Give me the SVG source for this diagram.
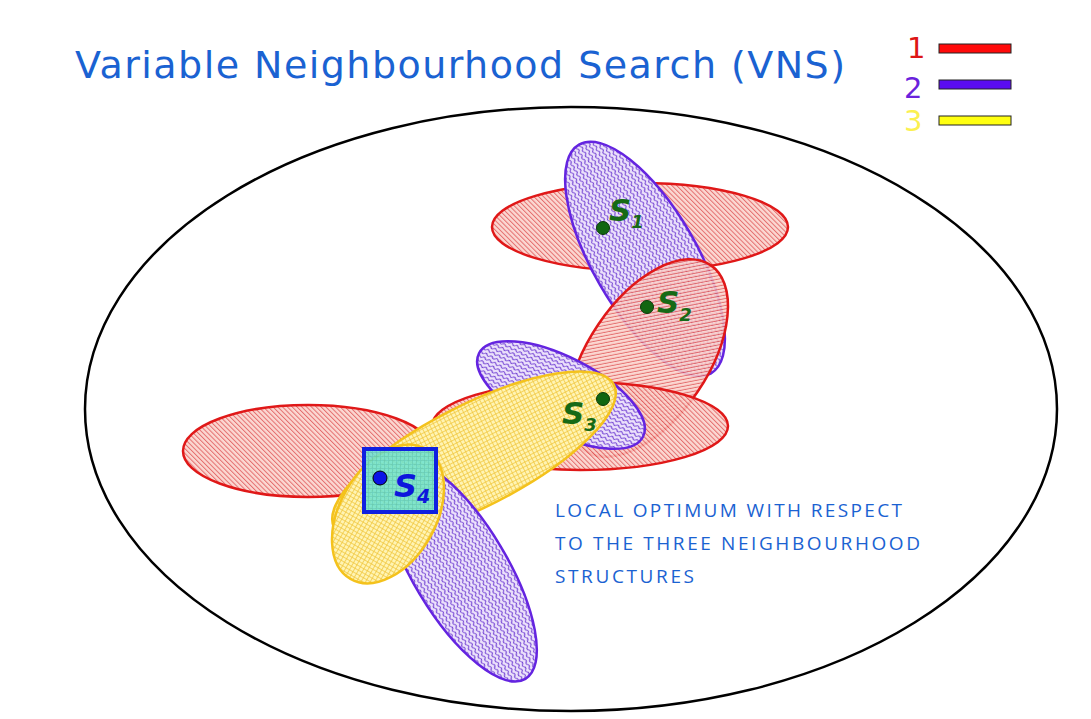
<svg xmlns="http://www.w3.org/2000/svg" width="1091" height="719" viewBox="0 0 1091 719">
<style>
.red{fill:url(#hatchRed);stroke:#e01818;stroke-width:2.5;fill-opacity:0.88}
.pur{fill:url(#wavePur);stroke:#6424e0;stroke-width:2.5}
.yel{fill:url(#gridYel);stroke:#f4c21c;stroke-width:2.5}
.lbl{font-family:"DejaVu Sans",sans-serif;font-weight:bold;font-style:italic;fill:#166a16}
.note{font-family:"Open Sans","Liberation Sans",sans-serif;font-size:19px;fill:#1a62d2}
.leg{font-family:"DejaVu Sans",sans-serif;font-size:29px}
.bar{stroke:#222;stroke-width:1}
</style>
<defs>
<pattern id="hatchRed" width="3.4" height="10" patternUnits="userSpaceOnUse" patternTransform="rotate(-45)">
<rect width="3.4" height="10" fill="#fbd3cc"/>
<line x1="0.5" y1="0" x2="0.5" y2="10" stroke="#e05a5a" stroke-width="1"/>
</pattern>
<pattern id="wavePur" width="6" height="4.2" patternUnits="userSpaceOnUse">
<rect width="6" height="4.2" fill="#ece2fb"/>
<path d="M0 2.1 Q1.5 0.3 3 2.1 T6 2.1" fill="none" stroke="#7444d4" stroke-width="1"/>
</pattern>
<pattern id="gridYel" width="4" height="4" patternUnits="userSpaceOnUse">
<rect width="4" height="4" fill="#fff4b4"/>
<path d="M0 0.4H4M0.4 0V4" stroke="#efc437" stroke-width="0.8"/>
</pattern>
<pattern id="gridBox" width="4" height="4" patternUnits="userSpaceOnUse">
<rect width="4" height="4" fill="#6ae2d2"/>
<path d="M0 0.4H4M0.4 0V4" stroke="#4ec6bc" stroke-width="0.8"/>
</pattern>
</defs>
<rect width="1091" height="719" fill="#ffffff"/>

<g id="title">
<text x="75" y="78" font-family="DejaVu Sans, sans-serif" font-size="38" fill="#1a62d2" textLength="770" lengthAdjust="spacing">Variable Neighbourhood Search (VNS)</text>
</g>

<g id="legend">
<text class="leg" x="907" y="58" fill="#dd1616">1</text>
<rect class="bar" x="939" y="44" width="72" height="9" fill="#ff0a0a"/>
<text class="leg" x="904" y="98" fill="#6a22dc">2</text>
<rect class="bar" x="939" y="80" width="72" height="9" fill="#5a0cf0"/>
<text class="leg" x="904" y="131" fill="#fbf050">3</text>
<rect class="bar" x="939" y="116" width="72" height="9" fill="#ffff10"/>
</g>

<g id="search-space">
<ellipse cx="571" cy="409" rx="486" ry="302" fill="none" stroke="#000" stroke-width="2.5"/>
</g>

<g id="neighbourhoods">
<ellipse id="n1-s1" class="red" cx="640" cy="227" rx="148" ry="44"/>
<ellipse id="n2-s1" class="pur" cx="645" cy="259" rx="132" ry="52" transform="rotate(60 645 259)"/>
<ellipse id="n1-s2" class="red" cx="648" cy="358" rx="112" ry="60" transform="rotate(-56 648 358)"/>
<ellipse id="n1-s3" class="red" cx="580" cy="426" rx="148" ry="44"/>
<ellipse id="n2-s3" class="pur" cx="561" cy="395" rx="92" ry="38" transform="rotate(27 561 395)"/>
<ellipse id="n1-s4" class="red" cx="308" cy="451" rx="125" ry="46"/>
<ellipse id="n3-s3" class="yel" cx="474" cy="456" rx="157" ry="51" transform="rotate(-27 474 456)"/>
<ellipse id="n2-s4" class="pur" cx="460" cy="570" rx="127" ry="47" transform="rotate(59 460 570)"/>
<ellipse id="n3-s4" class="yel" cx="388" cy="514" rx="75" ry="48" transform="rotate(-60 388 514)"/>
</g>

<g id="connectors"></g>

<g id="s1">
<circle cx="603" cy="228" r="6.5" fill="#116611" stroke="#0a3a0a" stroke-width="1"/>
<text class="lbl" x="609" y="221" font-size="31">S<tspan font-size="18" dy="7">1</tspan></text>
</g>
<g id="s2">
<circle cx="647" cy="307" r="6.5" fill="#116611" stroke="#0a3a0a" stroke-width="1"/>
<text class="lbl" x="657" y="313" font-size="31">S<tspan font-size="18" dy="8">2</tspan></text>
</g>
<g id="s3">
<circle cx="603" cy="399" r="6.5" fill="#116611" stroke="#0a3a0a" stroke-width="1"/>
<text class="lbl" x="562" y="424" font-size="31">S<tspan font-size="18" dy="7">3</tspan></text>
</g>
<g id="s4">
<rect x="364" y="449" width="72" height="63" fill="url(#gridBox)" fill-opacity="0.85" stroke="#1020e0" stroke-width="4"/>
<circle cx="380" cy="478" r="7" fill="#0a14e6" stroke="#000" stroke-width="1"/>
<text class="lbl" x="394" y="497" font-size="32" style="fill:#0d16dc">S<tspan font-size="19" dy="6">4</tspan></text>
</g>

<g id="note">
<text class="note" x="555" y="517" textLength="347" lengthAdjust="spacing">LOCAL OPTIMUM WITH RESPECT</text>
<text class="note" x="555" y="550" textLength="365" lengthAdjust="spacing">TO THE THREE NEIGHBOURHOOD</text>
<text class="note" x="555" y="583" textLength="139" lengthAdjust="spacing">STRUCTURES</text>
</g>
</svg>
